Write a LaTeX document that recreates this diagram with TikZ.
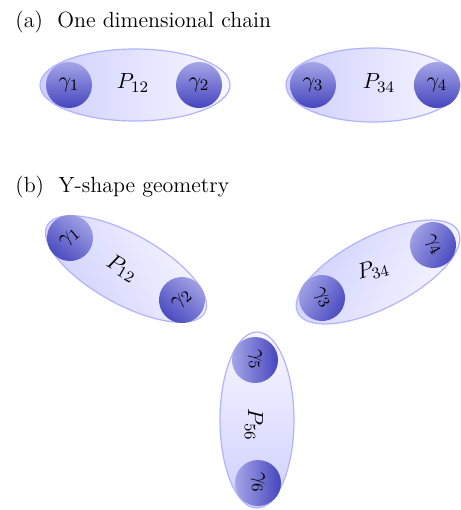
\documentclass[tikz,border=0pt]{standalone}
\usetikzlibrary{shapes.geometric}
\definecolor{majdark}{RGB}{70,70,190}
\definecolor{majlight}{RGB}{165,165,232}

\begin{document}
\begin{tikzpicture}[
    x=0.5pt, y=0.5pt,
    font=\fontsize{11}{13}\selectfont,
    pair/.style={ellipse, draw=blue!30, line width=0.6pt, left color=blue!19, right color=blue!3,
        shading angle={90-(#1)}, rotate=#1, minimum width=90pt, minimum height=36pt, inner sep=0pt},
    pair/.default=0,
    major/.style={circle, top color=majlight, bottom color=majdark, shading angle={-(#1)},
        rotate=#1, minimum size=23pt, inner sep=0pt},
    major/.default=0,
    subtitle/.style={anchor=base west, inner sep=0pt}
]
    \useasboundingbox (0,0) rectangle (461,-510);

    % (a) cadena unidimensional
    \node[subtitle] (capa) at (15,-27) {(a)\ \ One dimensional chain};
    \node[pair, minimum width=95pt] (e12) at (135,-85) {};
    \node[pair, minimum width=87pt, minimum height=37pt] (e34) at (373,-85) {};
    \node[major] (g1) at (69,-85) {$\gamma_1$};
    \node[major] (g2) at (199,-85) {$\gamma_2$};
    \node[major] (g3) at (313,-85) {$\gamma_3$};
    \node[major] (g4) at (437,-85) {$\gamma_4$};
    \node (p12) at (133,-83) {$P_{12}$};
    \node (p34) at (379,-83) {$P_{34}$};

    % (b) geometria en Y
    \node[subtitle] (capb) at (15,-192) {(b)\ \ Y-shape geometry};
    \node[pair=-29, minimum height=35pt] (f12) at (126,-269) {};
    \node[pair=27] (f34) at (378,-272) {};
    \node[pair=-90, minimum width=88pt, minimum height=37pt] (f56) at (257,-420) {};
    \node[major=40] (h1) at (70,-238) {$\gamma_1$};
    \node[major=40] (h2) at (182,-300) {$\gamma_2$};
    \node[major=-60] (h3) at (322,-298) {$\gamma_3$};
    \node[major=-60] (h4) at (433,-245) {$\gamma_4$};
    \node[major=-90] (h5) at (255,-360) {$\gamma_5$};
    \node[major=-90] (h6) at (258,-483) {$\gamma_6$};
    \node[rotate=-30] (q12) at (122,-268) {$P_{12}$};
    \node[rotate=15] (q34) at (373,-270) {$P_{34}$};
    \node[rotate=-90] (q56) at (254,-425) {$P_{56}$};
\end{tikzpicture}
\end{document}
